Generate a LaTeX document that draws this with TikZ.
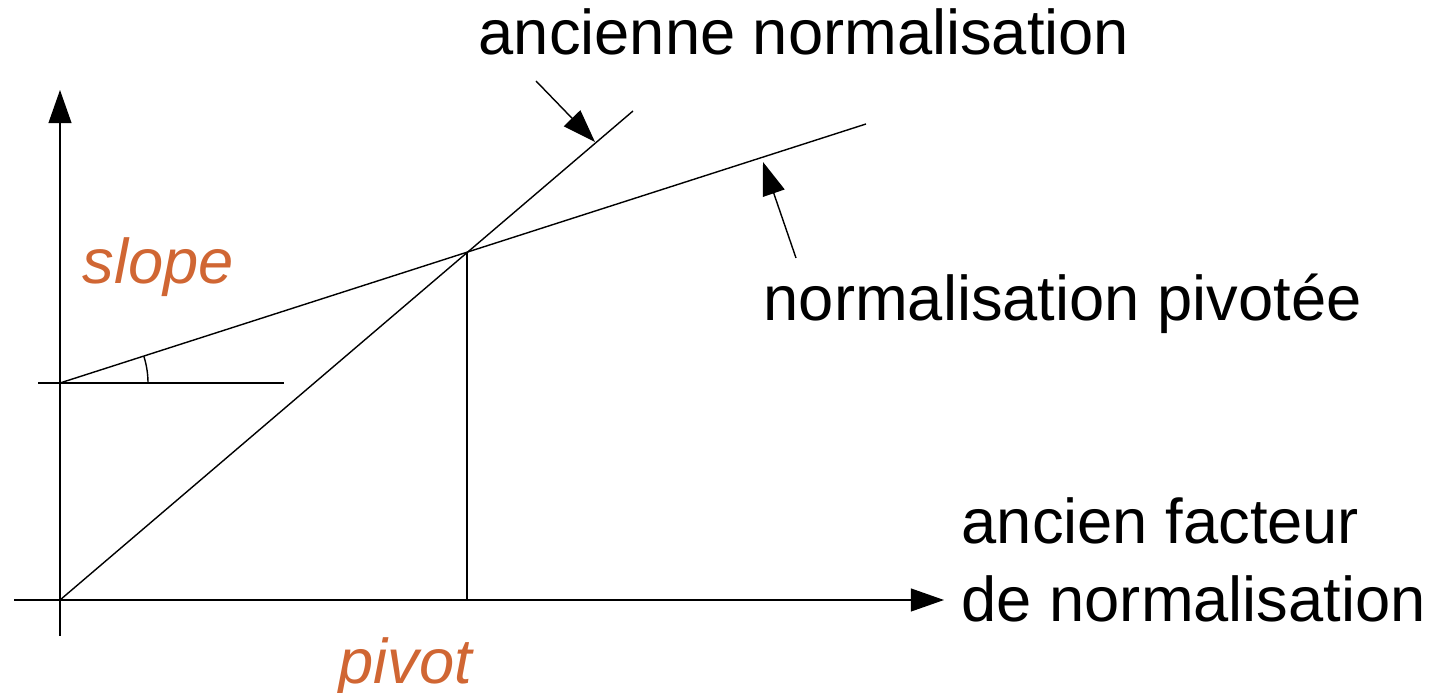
\documentclass[tikz,border=0pt]{standalone}
\usepackage{fontspec}
\setmainfont{Liberation Sans}
\usetikzlibrary{arrows.meta}
\definecolor{rust}{RGB}{208,102,51}
\tikzset{
  thin line/.style={line width=0.4pt},
  tip/.style={-{Triangle[length=9.4pt, width=6.5pt]}},
  lbl/.style={anchor=base west, inner sep=0pt, font=\fontsize{18}{22}\selectfont},
  param/.style={lbl, text=rust, font=\fontsize{18}{22}\selectfont\itshape}
}
\begin{document}
\begin{tikzpicture}
  \useasboundingbox (0,0) rectangle (14.32,6.93);
  % Coordinates
  \coordinate (O) at (0.60, 0.93);
  \coordinate (Yb) at (0.60, 0.57);
  \coordinate (Yt) at (0.60, 6.03);
  \coordinate (Xl) at (0.14, 0.93);
  \coordinate (Xt) at (9.44, 0.93);
  \coordinate (I) at (0.60, 3.10);
  \coordinate (Il) at (0.38, 3.10);
  \coordinate (Ir) at (2.84, 3.10);
  \coordinate (Ia) at (1.48, 3.10);
  \coordinate (P) at (4.67, 4.41);
  \coordinate (Pf) at (4.67, 0.93);
  \coordinate (S) at (6.33, 5.82);
  \coordinate (R) at (8.66, 5.69);
  \coordinate (A1) at (5.36, 6.12);
  \coordinate (A2) at (5.95, 5.51);
  \coordinate (B1) at (7.96, 4.35);
  \coordinate (B2) at (7.63, 5.31);

  % Drawing
  \draw[thin line, tip] (Yb) -- (Yt);
  \draw[thin line, tip] (Xl) -- (Xt);
  \draw[thin line] (Il) -- (Ir);
  \draw[thin line] (O) -- (S);
  \draw[thin line] (I) -- (R);
  \draw[thin line] (P) -- (Pf);
  \draw[thin line] (Ia) arc[start angle=0, end angle=17.8, radius=0.88];
  \draw[thin line, tip] (A1) -- (A2);
  \draw[thin line, tip] (B1) -- (B2);
  \node[lbl] (old) at (4.78, 6.38) {ancienne normalisation};
  \node[lbl] (new) at (7.63, 3.72) {normalisation pivotée};
  \node[lbl] (xa) at (9.61, 1.49) {ancien facteur};
  \node[lbl] (xb) at (9.61, 0.71) {de normalisation};
  \node[param] (slope) at (0.82, 4.09) {slope};
  \node[param] (pivot) at (3.38, 0.09) {pivot};
\end{tikzpicture}
\end{document}
